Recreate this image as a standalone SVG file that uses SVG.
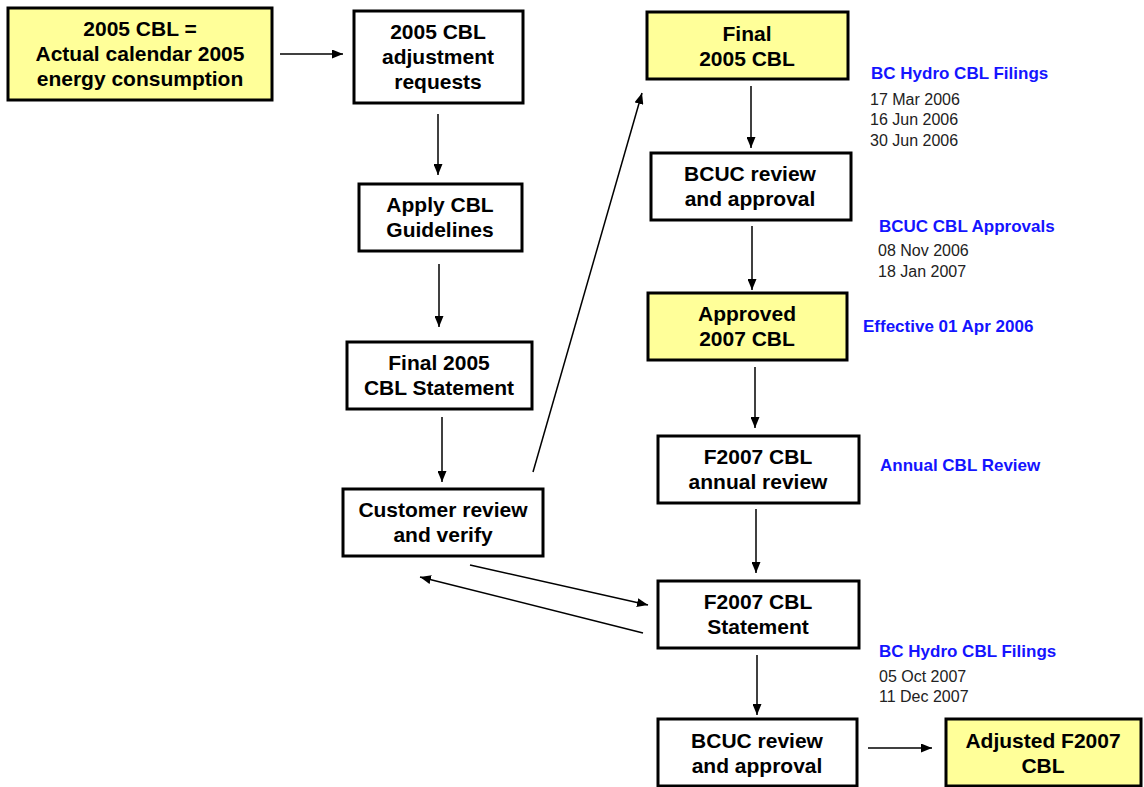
<svg xmlns="http://www.w3.org/2000/svg" width="1144" height="787" viewBox="0 0 1144 787">
<defs>
<marker id="ah" markerWidth="11" markerHeight="9" refX="11" refY="4.5" orient="auto" markerUnits="userSpaceOnUse">
<path d="M0,0 L11,4.5 L0,9 Z" fill="#000"/>
</marker>
<style>
.box{fill:#fff;stroke:#000;stroke-width:3}
.yel{fill:#ffff99;stroke:#000;stroke-width:3}
.t{font-family:"Liberation Sans",Arial,sans-serif;font-size:21px;font-weight:bold;fill:#000;text-anchor:middle}
.c{stroke:#000;stroke-width:1.5;fill:none;marker-end:url(#ah)}
.h{font-family:"Liberation Sans",Arial,sans-serif;font-size:17px;font-weight:bold;fill:#1414ff}
.d{font-family:"Liberation Sans",Arial,sans-serif;font-size:16px;fill:#222}
</style>
</defs>
<rect width="1144" height="787" fill="#fff"/>
<g id="connectors">
<line class="c" x1="280" y1="54" x2="343" y2="54"/>
<line class="c" x1="438" y1="114" x2="438" y2="175"/>
<line class="c" x1="439" y1="264" x2="439" y2="327"/>
<line class="c" x1="442" y1="417" x2="442" y2="482"/>
<line class="c" x1="533" y1="472" x2="642" y2="93"/>
<line class="c" x1="470" y1="565" x2="648" y2="605"/>
<line class="c" x1="643" y1="633" x2="420" y2="577"/>
<line class="c" x1="751" y1="86" x2="751" y2="148"/>
<line class="c" x1="752" y1="226" x2="752" y2="290"/>
<line class="c" x1="755" y1="367" x2="755" y2="428"/>
<line class="c" x1="756" y1="509" x2="756" y2="573"/>
<line class="c" x1="757" y1="655" x2="757" y2="715"/>
<line class="c" x1="868" y1="748" x2="932" y2="748"/>
</g>
<g id="n1"><rect class="yel" x="8" y="8" width="264" height="92"/>
<text class="t" x="140" y="36">2005 CBL =</text><text class="t" x="140" y="61">Actual calendar 2005</text><text class="t" x="140" y="86">energy consumption</text></g>
<g id="n2"><rect class="box" x="354" y="11" width="169" height="92"/>
<text class="t" x="438" y="39">2005 CBL</text><text class="t" x="438" y="64">adjustment</text><text class="t" x="438" y="89">requests</text></g>
<g id="n3"><rect class="box" x="359" y="184" width="163" height="67"/>
<text class="t" x="440" y="212">Apply CBL</text><text class="t" x="440" y="237">Guidelines</text></g>
<g id="n4"><rect class="box" x="347" y="342" width="185" height="67"/>
<text class="t" x="439" y="370">Final 2005</text><text class="t" x="439" y="395">CBL Statement</text></g>
<g id="n5"><rect class="box" x="343" y="489" width="200" height="67"/>
<text class="t" x="443" y="517">Customer review</text><text class="t" x="443" y="542">and verify</text></g>
<g id="n6"><rect class="yel" x="647" y="12" width="201" height="67"/>
<text class="t" x="747" y="41">Final</text><text class="t" x="747" y="66">2005 CBL</text></g>
<g id="n7"><rect class="box" x="651" y="153" width="200" height="67"/>
<text class="t" x="750" y="181">BCUC review</text><text class="t" x="750" y="206">and approval</text></g>
<g id="n8"><rect class="yel" x="648" y="293" width="199" height="67"/>
<text class="t" x="747" y="321">Approved</text><text class="t" x="747" y="346">2007 CBL</text></g>
<g id="n9"><rect class="box" x="658" y="436" width="201" height="67"/>
<text class="t" x="758" y="464">F2007 CBL</text><text class="t" x="758" y="489">annual review</text></g>
<g id="n10"><rect class="box" x="658" y="581" width="201" height="67"/>
<text class="t" x="758" y="609">F2007 CBL</text><text class="t" x="758" y="634">Statement</text></g>
<g id="n11"><rect class="box" x="658" y="719" width="199" height="67"/>
<text class="t" x="757" y="748">BCUC review</text><text class="t" x="757" y="773">and approval</text></g>
<g id="n12"><rect class="yel" x="946" y="719" width="195" height="67"/>
<text class="t" x="1043" y="748">Adjusted F2007</text><text class="t" x="1043" y="773">CBL</text></g>
<g id="notes">
<text class="h" x="871" y="79">BC Hydro CBL Filings</text>
<text class="d" x="870" y="105">17 Mar 2006</text>
<text class="d" x="870" y="125">16 Jun 2006</text>
<text class="d" x="870" y="146">30 Jun 2006</text>
<text class="h" x="879" y="232">BCUC CBL Approvals</text>
<text class="d" x="878" y="256">08 Nov 2006</text>
<text class="d" x="878" y="277">18 Jan 2007</text>
<text class="h" x="863" y="332">Effective 01 Apr 2006</text>
<text class="h" x="880" y="471">Annual CBL Review</text>
<text class="h" x="879" y="657">BC Hydro CBL Filings</text>
<text class="d" x="879" y="682">05 Oct 2007</text>
<text class="d" x="879" y="702">11 Dec 2007</text>
</g>
</svg>
